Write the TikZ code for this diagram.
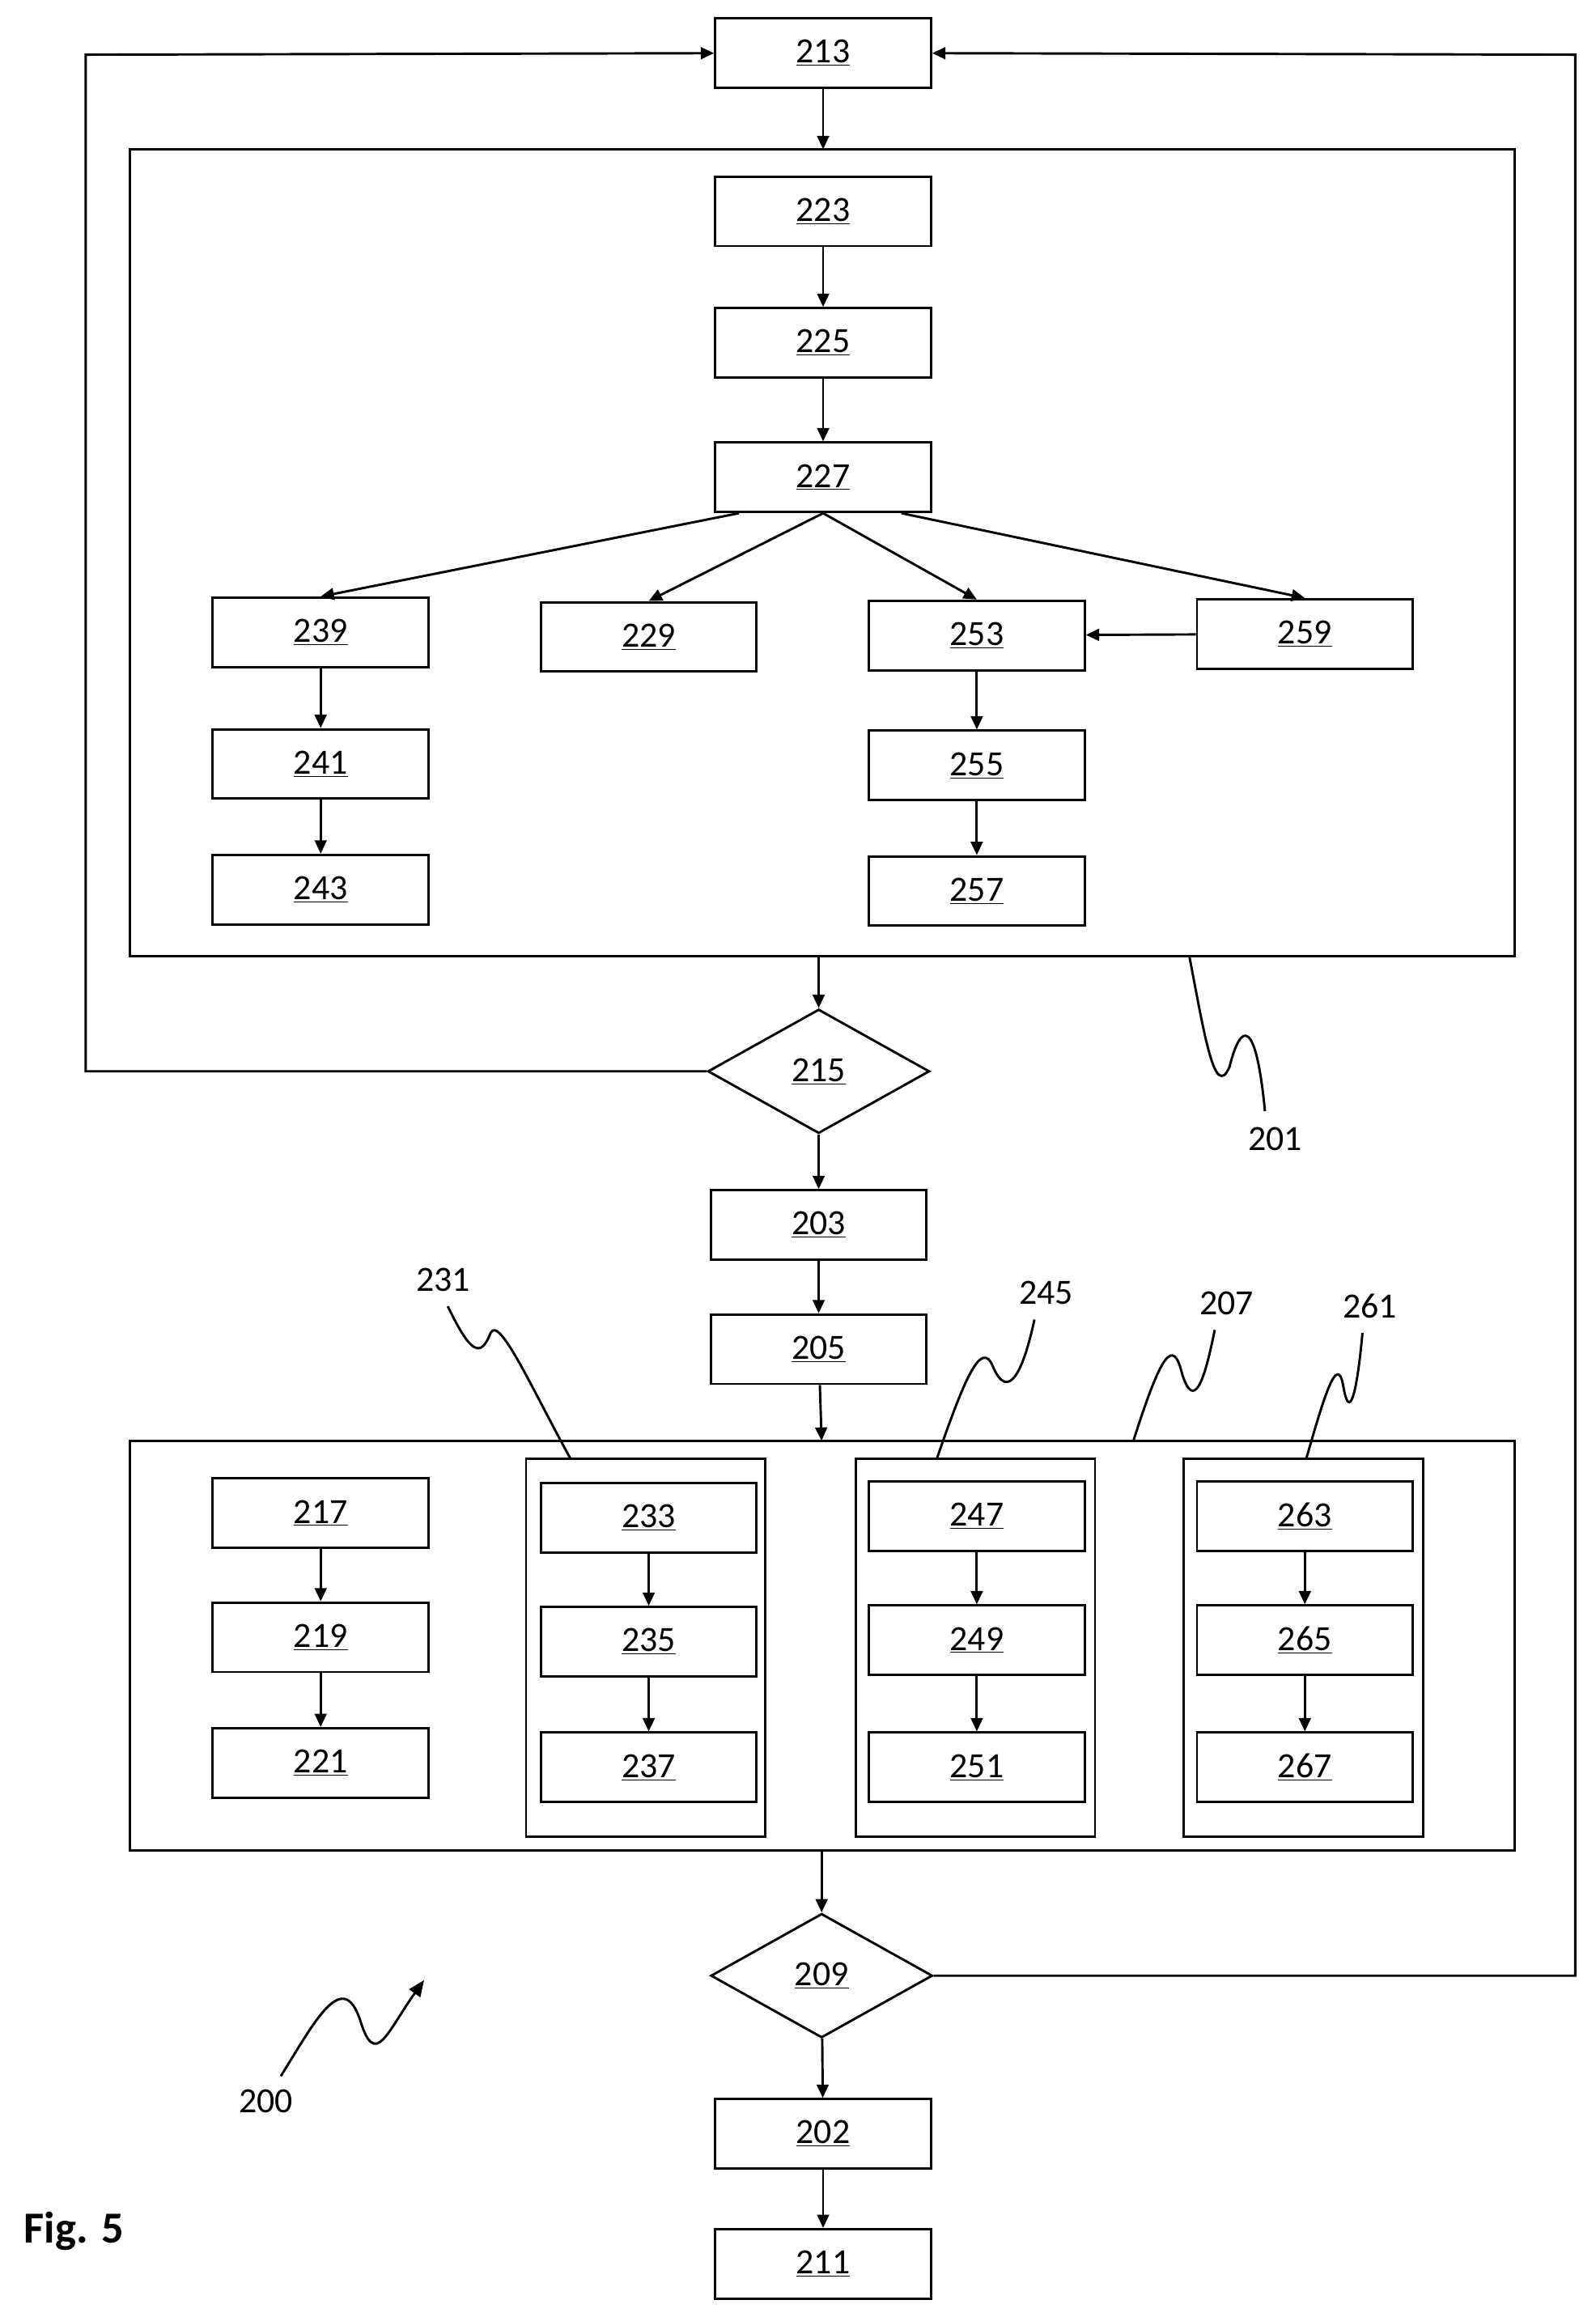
\documentclass[tikz,border=0pt]{standalone}
\usepackage{fontspec}
\setmainfont{Carlito}
\usetikzlibrary{shapes.geometric,arrows.meta}
\begin{document}
\begin{tikzpicture}[x=1pt,y=-1pt,
  bx/.style={draw,line width=1.6pt,minimum width=146pt,minimum height=47pt,inner sep=0pt,font=\fontsize{24}{28}\selectfont},
  dm/.style={draw,line width=1.6pt,diamond,aspect=1.78,minimum width=150pt,minimum height=84pt,inner sep=0pt,font=\fontsize{24}{28}\selectfont},
  ar/.style={line width=1.6pt,-{Triangle[length=9pt,width=8pt]}},
  fr/.style={draw,line width=1.6pt},
  lb/.style={font=\fontsize{24}{28}\selectfont},
  sq/.style={line width=1.6pt}]
\useasboundingbox (0,0) rectangle (1080,1568);
\newcommand{\bxn}[3]{\node[bx] (n#1) at (#2,#3) {\underline{#1}};}
\bxn{213}{557}{36}
\draw[fr] (88,101) rectangle (1025,647);
\bxn{223}{557}{143}\bxn{225}{557}{232}\bxn{227}{557}{323}
\bxn{239}{217}{428}\bxn{229}{439}{431}\bxn{253}{661}{430}\bxn{259}{883}{429}
\bxn{241}{217}{517}\bxn{243}{217}{602}\bxn{255}{661}{518}\bxn{257}{661}{603}
\node[dm] (n215) at (554,725) {\underline{215}};
\bxn{203}{554}{829}\bxn{205}{554}{913}
\draw[fr] (88,975) rectangle (1025,1252);
\draw[fr] (356,987) rectangle (518,1243);
\draw[fr] (579,987) rectangle (741,1243);
\draw[fr] (801,987) rectangle (963,1243);
\bxn{217}{217}{1024}\bxn{219}{217}{1108}\bxn{221}{217}{1193}
\bxn{233}{439}{1027}\bxn{235}{439}{1111}\bxn{237}{439}{1196}
\bxn{247}{661}{1026}\bxn{249}{661}{1110}\bxn{251}{661}{1196}
\bxn{263}{883}{1026}\bxn{265}{883}{1110}\bxn{267}{883}{1196}
\node[dm] (n209) at (556,1337) {\underline{209}};
\bxn{202}{557}{1444}\bxn{211}{557}{1532}
\coordinate (t201) at (557,101); \coordinate (b201) at (554,647);
\coordinate (t207) at (556,975); \coordinate (b207) at (556,1252);
\draw[ar] (n213) -- (t201);
\draw[ar] (n223) -- (n225);
\draw[ar] (n225) -- (n227);
\draw[ar] ([xshift=-57pt]n227.south) -- (n239.north);
\draw[ar] (n227.south) -- (n229.north);
\draw[ar] (n227.south) -- (n253.north);
\draw[ar] ([xshift=53pt]n227.south) -- (n259.north);
\draw[ar] (n259) -- (n253);
\draw[ar] (n239) -- (n241); \draw[ar] (n241) -- (n243);
\draw[ar] (n253) -- (n255); \draw[ar] (n255) -- (n257);
\draw[ar] (b201) -- (n215.north);
\draw[ar] (n215.west) -- (58,725) -- (58,37) -- (n213.west);
\draw[ar] (n215) -- (n203); \draw[ar] (n203) -- (n205);
\draw[ar] (n205) -- (t207);
\draw[ar] (n217) -- (n219); \draw[ar] (n219) -- (n221);
\draw[ar] (n233) -- (n235); \draw[ar] (n235) -- (n237);
\draw[ar] (n247) -- (n249); \draw[ar] (n249) -- (n251);
\draw[ar] (n263) -- (n265); \draw[ar] (n265) -- (n267);
\draw[ar] (b207) -- (n209.north);
\draw[ar] (n209.east) -- (1066,1337) -- (1066,37) -- (n213.east);
\draw[ar] (n209) -- (n202); \draw[ar] (n202) -- (n211);
% labels
\node[lb] (l201) at (863,771) {201};
\node[lb] (l231) at (300,866) {231};
\node[lb] (l245) at (708,875) {245};
\node[lb] (l207) at (830,882) {207};
\node[lb] (l261) at (927,884) {261};
\node[lb] (l200) at (180,1422) {200};
\node[font=\bfseries\fontsize{30}{34}\selectfont] (fig) at (50,1510) {Fig. 5};
\draw[sq] (805,648) .. controls (815,700) and (822,745) .. (832,722) .. controls (840,690) and (850,690) .. (856,752);
\draw[sq] (303,884) .. controls (318,915) and (325,920) .. (332,902) .. controls (338,890) and (360,940) .. (386,987);
\draw[sq] (700,893) .. controls (692,930) and (682,948) .. (672,925) .. controls (664,905) and (652,935) .. (634,987);
\draw[sq] (822,900) .. controls (815,935) and (808,955) .. (800,930) .. controls (794,905) and (786,915) .. (767,975);
\draw[sq] (922,902) .. controls (918,945) and (913,962) .. (909,938) .. controls (905,915) and (896,945) .. (884,987);
\draw[sq,-{Triangle[length=11pt,width=9pt]}] (190,1405) .. controls (212,1370) and (232,1330) .. (244,1368) .. controls (254,1400) and (262,1375) .. (287,1340);
\end{tikzpicture}
\end{document}
